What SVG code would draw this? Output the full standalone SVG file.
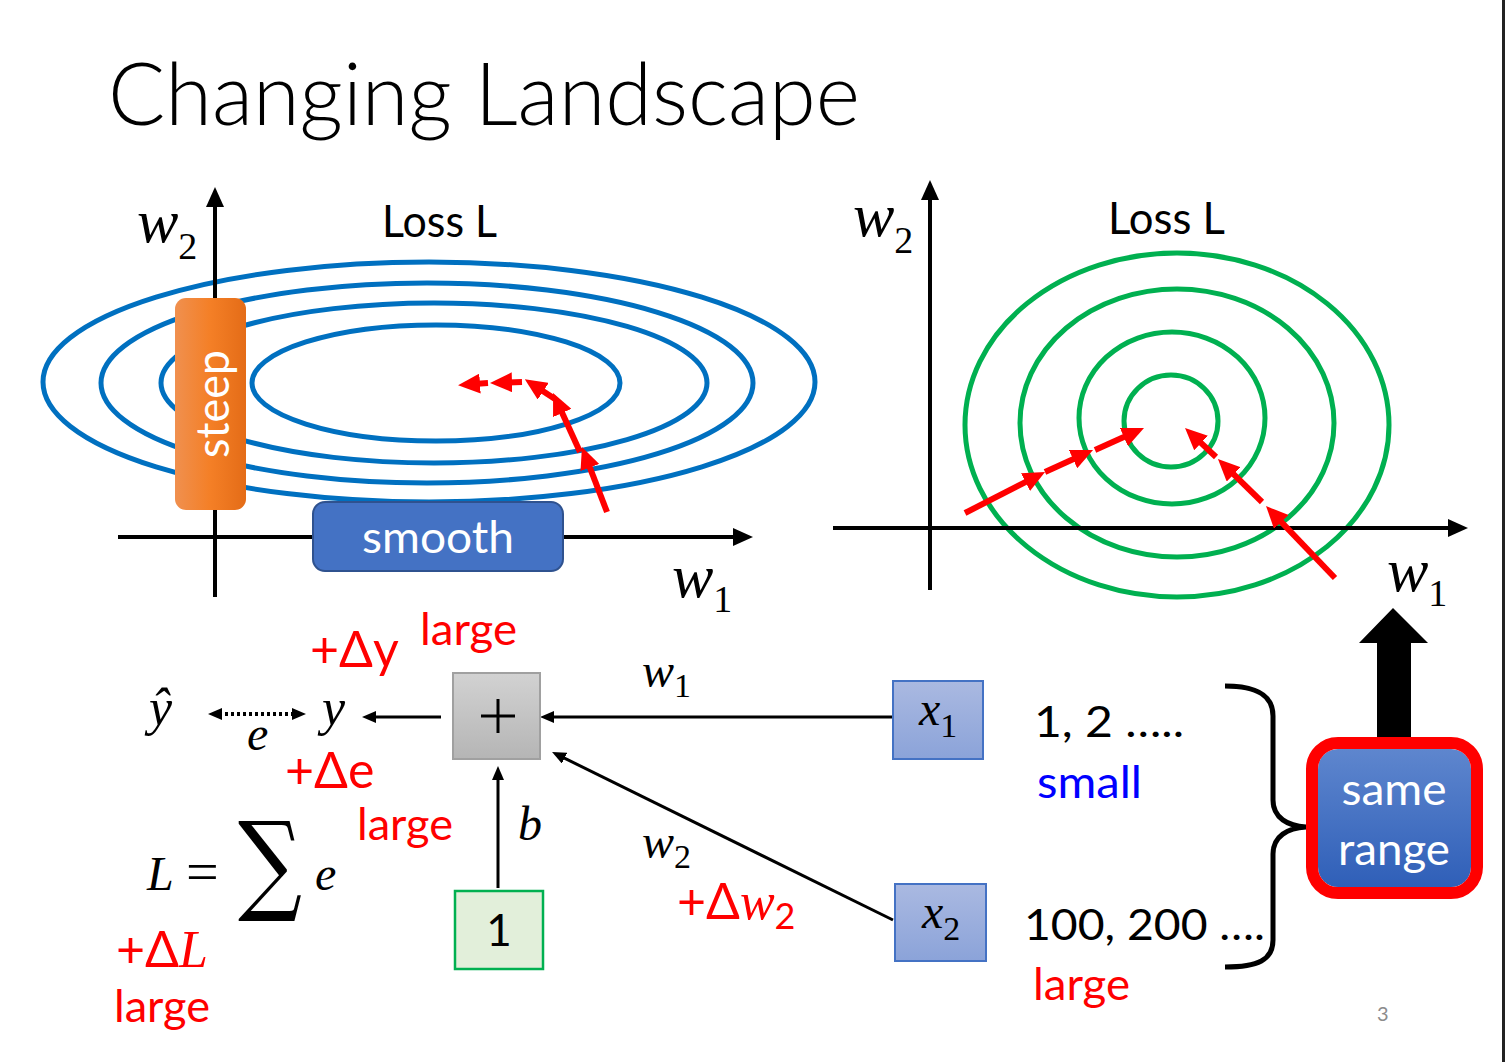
<svg xmlns="http://www.w3.org/2000/svg" width="1505" height="1062" viewBox="0 0 1505 1062">
<style>
.sans{font-family:Lato,"Liberation Sans","DejaVu Sans",sans-serif}
.math{font-family:"Liberation Serif","DejaVu Serif",serif;font-style:italic}
.red{fill:#FF0000}
.blk{fill:#000}
.ell{fill:none;stroke:#0070C0;stroke-width:5}
.circ{fill:none;stroke:#00B050;stroke-width:5}
.axis{stroke:#000;stroke-width:4;fill:none;marker-end:url(#axHead)}
.rarr{stroke:#FF0000;stroke-width:6;fill:none;marker-end:url(#redHead)}
.conn{stroke:#000;stroke-width:3;fill:none;marker-end:url(#smHead)}
</style>
<defs>
<marker id="axHead" markerUnits="userSpaceOnUse" markerWidth="20" markerHeight="18" viewBox="0 0 20 18" refX="4" refY="9" orient="auto"><path d="M0,0 L20,9 L0,18 z" fill="#000"/></marker>
<marker id="redHead" markerUnits="userSpaceOnUse" markerWidth="22" markerHeight="20" viewBox="0 0 22 20" refX="6" refY="10" orient="auto"><path d="M0,0 L22,10 L0,20 z" fill="#FF0000"/></marker>
<marker id="smHead" markerUnits="userSpaceOnUse" markerWidth="14" markerHeight="12" viewBox="0 0 14 12" refX="3" refY="6" orient="auto-start-reverse"><path d="M0,0 L14,6 L0,12 z" fill="#000"/></marker>
<linearGradient id="gOrange" x1="0" y1="0" x2="1" y2="0"><stop offset="0" stop-color="#F0904F"/><stop offset="0.5" stop-color="#F47F26"/><stop offset="1" stop-color="#E46C17"/></linearGradient>
<linearGradient id="gGrey" x1="0" y1="0" x2="0" y2="1"><stop offset="0" stop-color="#D2D2D2"/><stop offset="1" stop-color="#B5B5B5"/></linearGradient>
<linearGradient id="gX" x1="0" y1="0" x2="0" y2="1"><stop offset="0" stop-color="#AAB9E1"/><stop offset="1" stop-color="#8BA3D9"/></linearGradient>
<linearGradient id="gBlue" x1="0" y1="0" x2="0" y2="1"><stop offset="0" stop-color="#5E86CE"/><stop offset="1" stop-color="#2F5FB8"/></linearGradient>
</defs>
<rect x="0" y="0" width="1505" height="1062" fill="#FFFFFF"/>
<rect x="1502" y="0" width="3" height="1062" fill="#222"/>

<text id="title" x="108" y="125" font-family="Lato,'Liberation Sans',sans-serif" font-weight="300" font-size="86" textLength="752" lengthAdjust="spacingAndGlyphs">Changing Landscape</text>

<!-- left plot -->
<g id="leftPlot">
<ellipse class="ell" cx="429" cy="382" rx="386" ry="120"/>
<ellipse class="ell" cx="427" cy="383" rx="326" ry="100"/>
<ellipse class="ell" cx="434" cy="383" rx="273" ry="80"/>
<ellipse class="ell" cx="436" cy="383" rx="184" ry="58"/>
<line class="axis" x1="215" y1="597" x2="215" y2="203"/>
<line class="axis" x1="118" y1="537" x2="737" y2="537"/>
<text class="sans" x="382" y="237" font-size="44" textLength="115" lengthAdjust="spacingAndGlyphs">Loss L</text>
<text class="math" x="137" y="242" font-size="62">w<tspan font-style="normal" font-size="38" dy="17">2</tspan></text>
<text class="math" x="672" y="597" font-size="62">w<tspan font-style="normal" font-size="38" dy="15">1</tspan></text>
</g>
<g id="steep">
<rect x="175" y="298" width="71" height="212" rx="11" fill="url(#gOrange)"/>
<text class="sans" transform="translate(229,458) rotate(-90)" font-size="46" fill="#FFFFFF" textLength="108" lengthAdjust="spacingAndGlyphs">steep</text>
</g>
<g id="smooth">
<rect x="313" y="502" width="250" height="69" rx="12" fill="#4472C4" stroke="#2F528F" stroke-width="2"/>
<text class="sans" x="438" y="553" font-size="44" fill="#FFFFFF" text-anchor="middle" textLength="152" lengthAdjust="spacingAndGlyphs">smooth</text>
</g>
<g id="leftPath">
<line class="rarr" x1="607" y1="512" x2="587.7" y2="461.9"/>
<line class="rarr" x1="580" y1="452" x2="559.7" y2="407.5"/>
<line class="rarr" x1="555" y1="399" x2="538.2" y2="388"/>
<line class="rarr" x1="522" y1="382" x2="506" y2="382.5"/>
<line class="rarr" x1="488" y1="383" x2="474" y2="384"/>
</g>

<!-- right plot -->
<g id="rightPlot">
<ellipse class="circ" cx="1177" cy="425" rx="212" ry="172"/>
<ellipse class="circ" cx="1177" cy="423" rx="157" ry="134"/>
<ellipse class="circ" cx="1172" cy="418" rx="93" ry="86"/>
<ellipse class="circ" cx="1171" cy="421" rx="47" ry="46"/>
<line class="axis" x1="930" y1="590" x2="930" y2="196"/>
<line class="axis" x1="833" y1="528" x2="1452" y2="528"/>
<text class="sans" x="1108" y="234" font-size="44" textLength="117" lengthAdjust="spacingAndGlyphs">Loss L</text>
<text class="math" x="853" y="236" font-size="62">w<tspan font-style="normal" font-size="38" dy="17">2</tspan></text>
<text class="math" x="1387" y="591" font-size="62">w<tspan font-style="normal" font-size="38" dy="15">1</tspan></text>
</g>
<g id="rightPath">
<line class="rarr" x1="965" y1="513" x2="1030.8" y2="479.3"/>
<line class="rarr" x1="1045" y1="472" x2="1078.5" y2="456.7"/>
<line class="rarr" x1="1095" y1="450" x2="1129.4" y2="434.6"/>
<line class="rarr" x1="1335" y1="578" x2="1277.1" y2="517.6"/>
<line class="rarr" x1="1262" y1="502" x2="1229.4" y2="470.2"/>
<line class="rarr" x1="1216" y1="457" x2="1196.7" y2="438.9"/>
</g>

<!-- bottom network -->
<g id="connectors">
<line x1="219" y1="714" x2="295" y2="714" stroke="#000" stroke-width="4" stroke-dasharray="3,3" marker-start="url(#smHead)" marker-end="url(#smHead)"/>
<line class="conn" x1="441" y1="717" x2="373" y2="717"/>
<line class="conn" x1="893" y1="717" x2="551" y2="717"/>
<line class="conn" x1="893" y1="920" x2="561.9" y2="756.9"/>
<line class="conn" x1="498" y1="888" x2="498" y2="777"/>
</g>
<g id="yhat"><text class="math" x="149" y="725" font-size="52">ŷ</text></g>
<g id="y"><text class="math" x="322" y="725" font-size="52">y</text></g>
<text class="math" x="247" y="750" font-size="48">e</text>
<g id="plus">
<rect x="453" y="673" width="87" height="86" fill="url(#gGrey)" stroke="#A0A0A0" stroke-width="2"/>
<path d="M481,716 H515 M498,699 V733" stroke="#000" stroke-width="3"/>
</g>
<g id="x1">
<rect x="893" y="681" width="90" height="78" fill="url(#gX)" stroke="#4472C4" stroke-width="2"/>
<text class="math" x="919" y="725" font-size="48">x<tspan font-style="normal" font-size="34" dy="12">1</tspan></text>
</g>
<g id="x2">
<rect x="895" y="884" width="91" height="77" fill="url(#gX)" stroke="#4472C4" stroke-width="2"/>
<text class="math" x="922" y="928" font-size="48">x<tspan font-style="normal" font-size="34" dy="12">2</tspan></text>
</g>
<g id="one">
<rect x="455" y="891" width="88" height="78" fill="#E2EFDA" stroke="#00B050" stroke-width="2.5"/>
<text class="sans" x="499" y="946" font-size="44" text-anchor="middle">1</text>
</g>
<text class="math" x="642" y="687" font-size="48">w<tspan font-style="normal" font-size="34" dy="10">1</tspan></text>
<text class="math" x="642" y="858" font-size="48">w<tspan font-style="normal" font-size="34" dy="10">2</tspan></text>
<text class="math" x="518" y="840" font-size="48">b</text>

<text class="sans red" x="310" y="667" font-size="50">+Δy</text>
<text class="sans red" x="420" y="645" font-size="44" textLength="97" lengthAdjust="spacingAndGlyphs">large</text>
<text class="sans red" x="285" y="788" font-size="50">+Δe</text>
<text class="sans red" x="357" y="840" font-size="44" textLength="96" lengthAdjust="spacingAndGlyphs">large</text>
<text class="sans red" x="677" y="919" font-size="50">+Δ<tspan class="math" font-size="52">w</tspan><tspan font-size="36" dy="10">2</tspan></text>

<g id="lossEq">
<text class="math" x="147" y="890" font-size="48">L</text>
<text font-family="'Liberation Serif',serif" x="186" y="891" font-size="58">=</text>
<text font-family="'DejaVu Serif','Liberation Serif',serif" x="238" y="900" font-size="110" textLength="64" lengthAdjust="spacingAndGlyphs">∑</text>
<text class="math" x="315" y="890" font-size="48">e</text>
</g>
<text class="sans red" x="116" y="967" font-size="50">+Δ<tspan class="math" font-size="52">L</tspan></text>
<text class="sans red" x="114" y="1022" font-size="44" textLength="96" lengthAdjust="spacingAndGlyphs">large</text>

<text class="sans" x="1034" y="737" font-size="42" textLength="150" lengthAdjust="spacingAndGlyphs">1, 2 …..</text>
<text class="sans" x="1037" y="798" font-size="44" fill="#0000FF" textLength="105" lengthAdjust="spacingAndGlyphs">small</text>
<text class="sans" x="1024" y="940" font-size="42" textLength="241" lengthAdjust="spacingAndGlyphs">100, 200 ….</text>
<text class="sans red" x="1033" y="1000" font-size="44" textLength="97" lengthAdjust="spacingAndGlyphs">large</text>

<g id="brace">
<path d="M1225,686 C1258,686 1273,696 1273,716 L1273,800 C1273,818 1288,826 1306,827 C1288,828 1273,836 1273,854 L1273,940 C1273,960 1258,967 1225,967" fill="none" stroke="#000" stroke-width="5"/>
</g>
<g id="bigArrow">
<polygon points="1377,738 1377,643 1359,643 1393,608 1428,643 1411,643 1411,738" fill="#000"/>
</g>
<g id="sameRange">
<rect x="1318" y="749" width="153" height="138" rx="20" fill="url(#gBlue)"/>
<rect x="1312" y="743" width="165" height="150" rx="26" fill="none" stroke="#FF0000" stroke-width="12"/>
<text class="sans" x="1394" y="805" font-size="44" fill="#FFFFFF" text-anchor="middle" textLength="105" lengthAdjust="spacingAndGlyphs">same</text>
<text class="sans" x="1394" y="865" font-size="44" fill="#FFFFFF" text-anchor="middle" textLength="112" lengthAdjust="spacingAndGlyphs">range</text>
</g>
<text class="sans" x="1377" y="1021" font-size="20" fill="#8C8C8C">3</text>
</svg>
